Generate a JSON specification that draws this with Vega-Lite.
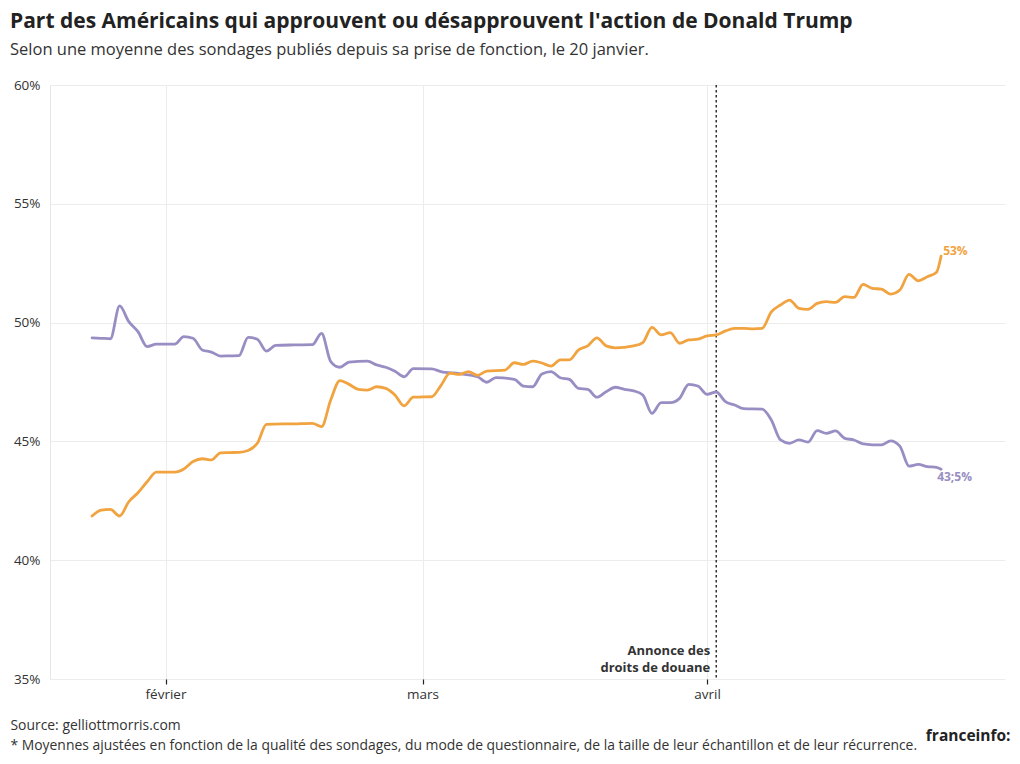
{
  "$schema": "https://vega.github.io/schema/vega-lite/v6.json",
  "width": 955,
  "height": 594,
  "autosize": {"type": "none"},
  "padding": {"top": 85, "left": 50, "right": 15, "bottom": 85},
  "background": "white",
  "title": {
    "text": "Part des Américains qui approuvent ou désapprouvent l'action de Donald Trump",
    "subtitle": "Selon une moyenne des sondages publiés depuis sa prise de fonction, le 20 janvier.",
    "anchor": "start",
    "frame": "group",
    "dx": -40,
    "offset": 20,
    "font": "Open Sans",
    "fontSize": 21,
    "fontWeight": "bold",
    "color": "#222222",
    "subtitleFont": "Open Sans",
    "subtitleFontSize": 16.5,
    "subtitleColor": "#333333",
    "subtitlePadding": 10
  },
  "datasets": {
    "sondages": [
      {"date": "2025-01-24", "serie": "Approuvent", "valeur": 49.36},
      {"date": "2025-01-25", "serie": "Approuvent", "valeur": 49.34},
      {"date": "2025-01-26", "serie": "Approuvent", "valeur": 49.32},
      {"date": "2025-01-27", "serie": "Approuvent", "valeur": 50.7},
      {"date": "2025-01-28", "serie": "Approuvent", "valeur": 50.04},
      {"date": "2025-01-29", "serie": "Approuvent", "valeur": 49.62},
      {"date": "2025-01-30", "serie": "Approuvent", "valeur": 48.99},
      {"date": "2025-01-31", "serie": "Approuvent", "valeur": 49.09},
      {"date": "2025-02-01", "serie": "Approuvent", "valeur": 49.09},
      {"date": "2025-02-02", "serie": "Approuvent", "valeur": 49.09},
      {"date": "2025-02-03", "serie": "Approuvent", "valeur": 49.41},
      {"date": "2025-02-04", "serie": "Approuvent", "valeur": 49.34},
      {"date": "2025-02-05", "serie": "Approuvent", "valeur": 48.85},
      {"date": "2025-02-06", "serie": "Approuvent", "valeur": 48.76},
      {"date": "2025-02-07", "serie": "Approuvent", "valeur": 48.59},
      {"date": "2025-02-08", "serie": "Approuvent", "valeur": 48.6},
      {"date": "2025-02-09", "serie": "Approuvent", "valeur": 48.61},
      {"date": "2025-02-10", "serie": "Approuvent", "valeur": 49.38},
      {"date": "2025-02-11", "serie": "Approuvent", "valeur": 49.3},
      {"date": "2025-02-12", "serie": "Approuvent", "valeur": 48.8},
      {"date": "2025-02-13", "serie": "Approuvent", "valeur": 49.04},
      {"date": "2025-02-15", "serie": "Approuvent", "valeur": 49.06},
      {"date": "2025-02-17", "serie": "Approuvent", "valeur": 49.07},
      {"date": "2025-02-18", "serie": "Approuvent", "valeur": 49.55},
      {"date": "2025-02-19", "serie": "Approuvent", "valeur": 48.36},
      {"date": "2025-02-20", "serie": "Approuvent", "valeur": 48.12},
      {"date": "2025-02-21", "serie": "Approuvent", "valeur": 48.34},
      {"date": "2025-02-23", "serie": "Approuvent", "valeur": 48.38},
      {"date": "2025-02-24", "serie": "Approuvent", "valeur": 48.22},
      {"date": "2025-02-25", "serie": "Approuvent", "valeur": 48.12},
      {"date": "2025-02-26", "serie": "Approuvent", "valeur": 47.95},
      {"date": "2025-02-27", "serie": "Approuvent", "valeur": 47.72},
      {"date": "2025-02-28", "serie": "Approuvent", "valeur": 48.06},
      {"date": "2025-03-02", "serie": "Approuvent", "valeur": 48.05},
      {"date": "2025-03-03", "serie": "Approuvent", "valeur": 47.94},
      {"date": "2025-03-05", "serie": "Approuvent", "valeur": 47.85},
      {"date": "2025-03-07", "serie": "Approuvent", "valeur": 47.72},
      {"date": "2025-03-08", "serie": "Approuvent", "valeur": 47.49},
      {"date": "2025-03-09", "serie": "Approuvent", "valeur": 47.68},
      {"date": "2025-03-11", "serie": "Approuvent", "valeur": 47.61},
      {"date": "2025-03-12", "serie": "Approuvent", "valeur": 47.33},
      {"date": "2025-03-13", "serie": "Approuvent", "valeur": 47.3},
      {"date": "2025-03-14", "serie": "Approuvent", "valeur": 47.84},
      {"date": "2025-03-15", "serie": "Approuvent", "valeur": 47.94},
      {"date": "2025-03-16", "serie": "Approuvent", "valeur": 47.68},
      {"date": "2025-03-17", "serie": "Approuvent", "valeur": 47.61},
      {"date": "2025-03-18", "serie": "Approuvent", "valeur": 47.23},
      {"date": "2025-03-19", "serie": "Approuvent", "valeur": 47.19},
      {"date": "2025-03-20", "serie": "Approuvent", "valeur": 46.86},
      {"date": "2025-03-21", "serie": "Approuvent", "valeur": 47.09},
      {"date": "2025-03-22", "serie": "Approuvent", "valeur": 47.28},
      {"date": "2025-03-23", "serie": "Approuvent", "valeur": 47.19},
      {"date": "2025-03-24", "serie": "Approuvent", "valeur": 47.13},
      {"date": "2025-03-25", "serie": "Approuvent", "valeur": 46.95},
      {"date": "2025-03-26", "serie": "Approuvent", "valeur": 46.18},
      {"date": "2025-03-27", "serie": "Approuvent", "valeur": 46.63},
      {"date": "2025-03-28", "serie": "Approuvent", "valeur": 46.63},
      {"date": "2025-03-29", "serie": "Approuvent", "valeur": 46.81},
      {"date": "2025-03-30", "serie": "Approuvent", "valeur": 47.4},
      {"date": "2025-03-31", "serie": "Approuvent", "valeur": 47.33},
      {"date": "2025-04-01", "serie": "Approuvent", "valeur": 46.98},
      {"date": "2025-04-02", "serie": "Approuvent", "valeur": 47.08},
      {"date": "2025-04-03", "serie": "Approuvent", "valeur": 46.67},
      {"date": "2025-04-04", "serie": "Approuvent", "valeur": 46.53},
      {"date": "2025-04-05", "serie": "Approuvent", "valeur": 46.38},
      {"date": "2025-04-07", "serie": "Approuvent", "valeur": 46.36},
      {"date": "2025-04-08", "serie": "Approuvent", "valeur": 45.9},
      {"date": "2025-04-09", "serie": "Approuvent", "valeur": 45.06},
      {"date": "2025-04-10", "serie": "Approuvent", "valeur": 44.92},
      {"date": "2025-04-11", "serie": "Approuvent", "valeur": 45.06},
      {"date": "2025-04-12", "serie": "Approuvent", "valeur": 44.97},
      {"date": "2025-04-13", "serie": "Approuvent", "valeur": 45.45},
      {"date": "2025-04-14", "serie": "Approuvent", "valeur": 45.34},
      {"date": "2025-04-15", "serie": "Approuvent", "valeur": 45.44},
      {"date": "2025-04-16", "serie": "Approuvent", "valeur": 45.13},
      {"date": "2025-04-17", "serie": "Approuvent", "valeur": 45.06},
      {"date": "2025-04-18", "serie": "Approuvent", "valeur": 44.9},
      {"date": "2025-04-20", "serie": "Approuvent", "valeur": 44.85},
      {"date": "2025-04-21", "serie": "Approuvent", "valeur": 45.02},
      {"date": "2025-04-22", "serie": "Approuvent", "valeur": 44.8},
      {"date": "2025-04-23", "serie": "Approuvent", "valeur": 43.96},
      {"date": "2025-04-24", "serie": "Approuvent", "valeur": 44.03},
      {"date": "2025-04-25", "serie": "Approuvent", "valeur": 43.94},
      {"date": "2025-04-26", "serie": "Approuvent", "valeur": 43.91},
      {"date": "2025-04-26T12:00:00Z", "serie": "Approuvent", "valeur": 43.83},
      {"date": "2025-01-24", "serie": "Désapprouvent", "valeur": 41.86},
      {"date": "2025-01-25", "serie": "Désapprouvent", "valeur": 42.11},
      {"date": "2025-01-26", "serie": "Désapprouvent", "valeur": 42.14},
      {"date": "2025-01-27", "serie": "Désapprouvent", "valeur": 41.86},
      {"date": "2025-01-28", "serie": "Désapprouvent", "valeur": 42.46},
      {"date": "2025-01-29", "serie": "Désapprouvent", "valeur": 42.84},
      {"date": "2025-01-30", "serie": "Désapprouvent", "valeur": 43.3},
      {"date": "2025-01-31", "serie": "Désapprouvent", "valeur": 43.71},
      {"date": "2025-02-01", "serie": "Désapprouvent", "valeur": 43.71},
      {"date": "2025-02-02", "serie": "Désapprouvent", "valeur": 43.71},
      {"date": "2025-02-03", "serie": "Désapprouvent", "valeur": 43.84},
      {"date": "2025-02-04", "serie": "Désapprouvent", "valeur": 44.15},
      {"date": "2025-02-05", "serie": "Désapprouvent", "valeur": 44.27},
      {"date": "2025-02-06", "serie": "Désapprouvent", "valeur": 44.22},
      {"date": "2025-02-07", "serie": "Désapprouvent", "valeur": 44.52},
      {"date": "2025-02-08", "serie": "Désapprouvent", "valeur": 44.53},
      {"date": "2025-02-09", "serie": "Désapprouvent", "valeur": 44.54},
      {"date": "2025-02-10", "serie": "Désapprouvent", "valeur": 44.62},
      {"date": "2025-02-11", "serie": "Désapprouvent", "valeur": 44.92},
      {"date": "2025-02-12", "serie": "Désapprouvent", "valeur": 45.72},
      {"date": "2025-02-13", "serie": "Désapprouvent", "valeur": 45.73},
      {"date": "2025-02-15", "serie": "Désapprouvent", "valeur": 45.74},
      {"date": "2025-02-17", "serie": "Désapprouvent", "valeur": 45.76},
      {"date": "2025-02-18", "serie": "Désapprouvent", "valeur": 45.62},
      {"date": "2025-02-19", "serie": "Désapprouvent", "valeur": 46.74},
      {"date": "2025-02-20", "serie": "Désapprouvent", "valeur": 47.56},
      {"date": "2025-02-21", "serie": "Désapprouvent", "valeur": 47.4},
      {"date": "2025-02-22", "serie": "Désapprouvent", "valeur": 47.19},
      {"date": "2025-02-23", "serie": "Désapprouvent", "valeur": 47.16},
      {"date": "2025-02-24", "serie": "Désapprouvent", "valeur": 47.3},
      {"date": "2025-02-25", "serie": "Désapprouvent", "valeur": 47.23},
      {"date": "2025-02-26", "serie": "Désapprouvent", "valeur": 46.95},
      {"date": "2025-02-27", "serie": "Désapprouvent", "valeur": 46.5},
      {"date": "2025-02-28", "serie": "Désapprouvent", "valeur": 46.86},
      {"date": "2025-03-01", "serie": "Désapprouvent", "valeur": 46.87},
      {"date": "2025-03-02", "serie": "Désapprouvent", "valeur": 46.88},
      {"date": "2025-03-03", "serie": "Désapprouvent", "valeur": 47.35},
      {"date": "2025-03-04", "serie": "Désapprouvent", "valeur": 47.87},
      {"date": "2025-03-05", "serie": "Désapprouvent", "valeur": 47.82},
      {"date": "2025-03-06", "serie": "Désapprouvent", "valeur": 47.94},
      {"date": "2025-03-07", "serie": "Désapprouvent", "valeur": 47.78},
      {"date": "2025-03-08", "serie": "Désapprouvent", "valeur": 47.96},
      {"date": "2025-03-10", "serie": "Désapprouvent", "valeur": 48.0},
      {"date": "2025-03-11", "serie": "Désapprouvent", "valeur": 48.31},
      {"date": "2025-03-12", "serie": "Désapprouvent", "valeur": 48.24},
      {"date": "2025-03-13", "serie": "Désapprouvent", "valeur": 48.38},
      {"date": "2025-03-14", "serie": "Désapprouvent", "valeur": 48.3},
      {"date": "2025-03-15", "serie": "Désapprouvent", "valeur": 48.17},
      {"date": "2025-03-16", "serie": "Désapprouvent", "valeur": 48.43},
      {"date": "2025-03-17", "serie": "Désapprouvent", "valeur": 48.43},
      {"date": "2025-03-18", "serie": "Désapprouvent", "valeur": 48.85},
      {"date": "2025-03-19", "serie": "Désapprouvent", "valeur": 49.02},
      {"date": "2025-03-20", "serie": "Désapprouvent", "valeur": 49.36},
      {"date": "2025-03-21", "serie": "Désapprouvent", "valeur": 49.02},
      {"date": "2025-03-22", "serie": "Désapprouvent", "valeur": 48.94},
      {"date": "2025-03-24", "serie": "Désapprouvent", "valeur": 49.02},
      {"date": "2025-03-25", "serie": "Désapprouvent", "valeur": 49.16},
      {"date": "2025-03-26", "serie": "Désapprouvent", "valeur": 49.8},
      {"date": "2025-03-27", "serie": "Désapprouvent", "valeur": 49.48},
      {"date": "2025-03-28", "serie": "Désapprouvent", "valeur": 49.58},
      {"date": "2025-03-29", "serie": "Désapprouvent", "valeur": 49.13},
      {"date": "2025-03-30", "serie": "Désapprouvent", "valeur": 49.27},
      {"date": "2025-03-31", "serie": "Désapprouvent", "valeur": 49.3},
      {"date": "2025-04-01", "serie": "Désapprouvent", "valeur": 49.44},
      {"date": "2025-04-02", "serie": "Désapprouvent", "valeur": 49.48},
      {"date": "2025-04-03", "serie": "Désapprouvent", "valeur": 49.65},
      {"date": "2025-04-04", "serie": "Désapprouvent", "valeur": 49.76},
      {"date": "2025-04-05", "serie": "Désapprouvent", "valeur": 49.76},
      {"date": "2025-04-06", "serie": "Désapprouvent", "valeur": 49.74},
      {"date": "2025-04-07", "serie": "Désapprouvent", "valeur": 49.76},
      {"date": "2025-04-08", "serie": "Désapprouvent", "valeur": 50.45},
      {"date": "2025-04-09", "serie": "Désapprouvent", "valeur": 50.74},
      {"date": "2025-04-10", "serie": "Désapprouvent", "valeur": 50.95},
      {"date": "2025-04-11", "serie": "Désapprouvent", "valeur": 50.6},
      {"date": "2025-04-12", "serie": "Désapprouvent", "valeur": 50.56},
      {"date": "2025-04-13", "serie": "Désapprouvent", "valeur": 50.81},
      {"date": "2025-04-14", "serie": "Désapprouvent", "valeur": 50.88},
      {"date": "2025-04-15", "serie": "Désapprouvent", "valeur": 50.85},
      {"date": "2025-04-16", "serie": "Désapprouvent", "valeur": 51.09},
      {"date": "2025-04-17", "serie": "Désapprouvent", "valeur": 51.06},
      {"date": "2025-04-18", "serie": "Désapprouvent", "valeur": 51.61},
      {"date": "2025-04-19", "serie": "Désapprouvent", "valeur": 51.44},
      {"date": "2025-04-20", "serie": "Désapprouvent", "valeur": 51.41},
      {"date": "2025-04-21", "serie": "Désapprouvent", "valeur": 51.2},
      {"date": "2025-04-22", "serie": "Désapprouvent", "valeur": 51.37},
      {"date": "2025-04-23", "serie": "Désapprouvent", "valeur": 52.03},
      {"date": "2025-04-24", "serie": "Désapprouvent", "valeur": 51.76},
      {"date": "2025-04-25", "serie": "Désapprouvent", "valeur": 51.93},
      {"date": "2025-04-26", "serie": "Désapprouvent", "valeur": 52.12},
      {"date": "2025-04-26T12:00:00Z", "serie": "Désapprouvent", "valeur": 52.8}
    ],
    "annonce": [
      {"date": "2025-04-02", "label": "Annonce des\ndroits de douane"}
    ],
    "etiquettes": [
      {"date": "2025-04-26T12:00:00Z", "serie": "Désapprouvent", "valeur": 53, "label": "53%"},
      {"date": "2025-04-26T12:00:00Z", "serie": "Approuvent", "valeur": 43.5, "label": "43;5%"}
    ]
  },
  "encoding": {
    "x": {
      "field": "date",
      "type": "temporal",
      "scale": {
        "type": "utc",
        "domain": [
          {"year": 2025, "month": 1, "date": 19, "hours": 10, "utc": true},
          {"year": 2025, "month": 5, "date": 3, "hours": 11, "utc": true}
        ]
      },
      "axis": {
        "values": [
          {"year": 2025, "month": 2, "date": 1, "utc": true},
          {"year": 2025, "month": 3, "date": 1, "utc": true},
          {"year": 2025, "month": 4, "date": 1, "utc": true}
        ],
        "labelExpr": "['janvier', 'février', 'mars', 'avril', 'mai'][utcmonth(datum.value)]",
        "domain": false,
        "grid": true,
        "gridColor": "#ececec",
        "ticks": true,
        "tickSize": 5,
        "tickWidth": 1.2,
        "tickOpacity": 1,
        "tickColor": "#222222",
        "labelFont": "Open Sans",
        "labelFontSize": 13.5,
        "labelColor": "#333333",
        "labelPadding": 3,
        "title": [
          "Source: gelliottmorris.com",
          "* Moyennes ajustées en fonction de la qualité des sondages, du mode de questionnaire, de la taille de leur échantillon et de leur récurrence."
        ],
        "titleX": -40,
        "titleY": 50,
        "titleAlign": "left",
        "titleAnchor": "start",
        "titleBaseline": "alphabetic",
        "titleLineHeight": 20,
        "titleFont": "Open Sans",
        "titleFontSize": 13.9,
        "titleFontWeight": "normal",
        "titleColor": "#333333"
      }
    }
  },
  "layer": [
    {
      "data": {"name": "annonce"},
      "mark": {"type": "rule", "color": "#333333", "strokeWidth": 1.5, "strokeDash": [2.5, 2.5]},
      "encoding": {}
    },
    {
      "data": {"name": "sondages"},
      "mark": {"type": "line", "interpolate": "monotone", "strokeWidth": 2.8, "strokeCap": "round"},
      "encoding": {
        "y": {
          "field": "valeur",
          "type": "quantitative",
          "scale": {"domain": [35, 60], "nice": false, "zero": false},
          "axis": {
            "values": [35, 40, 45, 50, 55, 60],
            "labelExpr": "datum.value + '%'",
            "ticks": false,
            "domain": true,
            "domainColor": "#e6e6e6",
            "gridColor": "#ececec",
            "labelPadding": 10,
            "labelFont": "Open Sans",
            "labelFontSize": 13.5,
            "labelColor": "#333333",
            "title": "franceinfo:",
            "titleAngle": 0,
            "titleX": 960,
            "titleY": 650,
            "titleAlign": "right",
            "titleBaseline": "middle",
            "titleFont": "Open Sans",
            "titleFontSize": 15.5,
            "titleFontWeight": "bold",
            "titleColor": "#222222"
          }
        },
        "color": {
          "field": "serie",
          "type": "nominal",
          "scale": {"domain": ["Approuvent", "Désapprouvent"], "range": ["#998ec3", "#f1a340"]},
          "legend": null
        }
      }
    },
    {
      "data": {"name": "annonce"},
      "mark": {"type": "text", "align": "right", "baseline": "bottom", "dx": -6, "lineBreak": "\n", "lineHeight": 17, "font": "Open Sans", "fontSize": 13, "fontWeight": "bold", "color": "#333333"},
      "encoding": {
        "y": {"datum": 35.88, "scale": {"domain": [35, 60], "nice": false, "zero": false}},
        "text": {"field": "label"}
      }
    },
    {
      "data": {"name": "etiquettes"},
      "transform": [{"filter": "datum.serie === 'Désapprouvent'"}],
      "mark": {"type": "text", "align": "left", "baseline": "middle", "dx": 2, "font": "Open Sans", "fontSize": 12, "fontWeight": "bold"},
      "encoding": {
        "y": {"field": "valeur", "type": "quantitative", "scale": {"domain": [35, 60], "nice": false, "zero": false}},
        "text": {"field": "label"},
        "color": {"field": "serie", "type": "nominal", "scale": {"domain": ["Approuvent", "Désapprouvent"], "range": ["#998ec3", "#f1a340"]}, "legend": null}
      }
    },
    {
      "data": {"name": "etiquettes"},
      "transform": [{"filter": "datum.serie === 'Approuvent'"}],
      "mark": {"type": "text", "align": "left", "baseline": "middle", "dx": -4, "font": "Open Sans", "fontSize": 12, "fontWeight": "bold"},
      "encoding": {
        "y": {"field": "valeur", "type": "quantitative", "scale": {"domain": [35, 60], "nice": false, "zero": false}},
        "text": {"field": "label"},
        "color": {"field": "serie", "type": "nominal", "scale": {"domain": ["Approuvent", "Désapprouvent"], "range": ["#998ec3", "#f1a340"]}, "legend": null}
      }
    }
  ],
  "config": {
    "view": {"stroke": null},
    "font": "Open Sans"
  }
}
